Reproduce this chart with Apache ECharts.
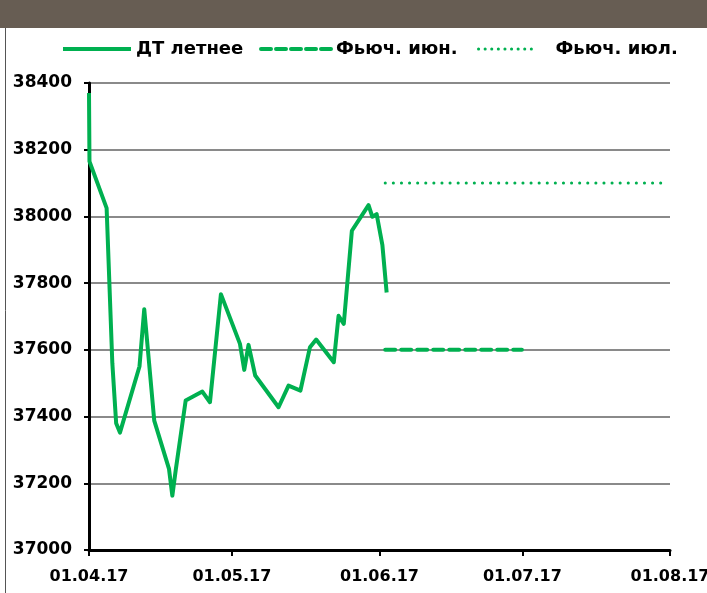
<!DOCTYPE html>
<html>
<head>
<meta charset="utf-8">
<script src="https://cdn.jsdelivr.net/npm/echarts@6/dist/echarts.min.js"></script>
<style>
  html, body { margin: 0; padding: 0; background: #fff; }
  #chart { width: 707px; height: 593px; }
</style>
</head>
<body>
<div id="chart"></div>
<script>
// дни от 01.04.17 и цены ДТ летнее
const startDate = new Date(2017, 3, 1).getTime();
const endDate = new Date(2017, 7, 1).getTime();
const DAY = 86400000;

const spotDays = [0, 0.1, 3.7, 4.9, 5.7, 6.5, 10.6, 11.6, 13.7, 16.8, 17.5, 18.2, 20.3, 23.8, 25.4, 27.7,
  31.7, 32.6, 33.5, 34.9, 39.8, 41.9, 44.4, 46.4, 47.7, 51.4, 52.4, 53.5, 55.2, 58.7, 59.5, 60.4, 61.6, 62.5];
const spotValues = [38370, 38165, 38025, 37560, 37380, 37352, 37550, 37722, 37388, 37243, 37163, 37238, 37448, 37475, 37443, 37767,
  37618, 37540, 37615, 37523, 37428, 37493, 37478, 37608, 37631, 37563, 37702, 37678, 37957, 38034, 37999, 38007, 37915, 37772];

// фьючерсы
const junDays = [62.2, 90.9];
const junValues = [37600, 37600];
const julDays = [62.2, 120.2];
const julValues = [38100, 38100];

const seriesNames = ['ДТ летнее', 'Фьюч. июн.', 'Фьюч. июл.'];

function toPoints(days, values) {
  return days.map((d, i) => [startDate + d * DAY, values[i]]);
}

function pad(n) { return (n < 10 ? '0' : '') + n; }

const green = '#00b050';
const font = 'DejaVu Sans';
const legendText = { fontFamily: font, fontWeight: 'bold', fontSize: 18, color: '#000' };
const legendBase = { top: 35, itemHeight: 14, itemStyle: { opacity: 0 }, textStyle: legendText };

const chart = echarts.init(document.getElementById('chart'));
chart.setOption({
  animation: false,
  graphic: [
    { type: 'rect', shape: { x: 0, y: 0, width: 707, height: 28 }, style: { fill: '#675d53' } },
    { type: 'line', shape: { x1: 5.5, y1: 28, x2: 5.5, y2: 593 }, style: { stroke: '#555', lineWidth: 1 } }
  ],
  legend: [
    Object.assign({}, legendBase, { left: 56, itemWidth: 68, data: [seriesNames[0]],
      lineStyle: { width: 4 } }),
    Object.assign({}, legendBase, { left: 254, itemWidth: 70, data: [seriesNames[1]],
      lineStyle: { width: 4, type: [10, 5] } }),
    Object.assign({}, legendBase, { left: 472, itemWidth: 58, data: [seriesNames[2]],
      lineStyle: { width: 3, type: [0.1, 6.5], cap: 'round' },
      textStyle: Object.assign({ padding: [0, 0, 0, 14] }, legendText) })
  ],
  grid: { left: 89, right: 37, top: 83, bottom: 43, outerBoundsMode: 'none' },
  xAxis: {
    type: 'time',
    min: startDate,
    max: endDate,
    splitNumber: 4,
    axisLine: { lineStyle: { color: '#000', width: 3 } },
    axisTick: { show: true, length: 6, lineStyle: { color: '#000', width: 2 } },
    splitLine: { show: false },
    axisLabel: {
      margin: 19,
      fontFamily: font,
      fontWeight: 'bold',
      fontSize: 16,
      color: '#000',
      hideOverlap: false,
      showMinLabel: true,
      showMaxLabel: true,
      formatter: function (v) {
        const d = new Date(v);
        return pad(d.getDate()) + '.' + pad(d.getMonth() + 1) + '.' + String(d.getFullYear()).slice(2);
      }
    }
  },
  yAxis: {
    type: 'value',
    min: 37000,
    max: 38400,
    interval: 200,
    axisLine: { show: true, lineStyle: { color: '#000', width: 3 } },
    axisTick: { show: true, length: 5, lineStyle: { color: '#000', width: 2 } },
    splitLine: { lineStyle: { color: '#8a8a8a', width: 2 } },
    axisLabel: {
      margin: 17, fontFamily: font, fontWeight: 'bold', fontSize: 17, color: '#000',
      formatter: function (v) { return String(v); }
    }
  },
  series: [
    {
      name: seriesNames[0],
      type: 'line',
      symbol: 'none',
      data: toPoints(spotDays, spotValues),
      lineStyle: { color: green, width: 4, join: 'round' },
      itemStyle: { color: green }
    },
    {
      name: seriesNames[1],
      type: 'line',
      symbol: 'none',
      data: toPoints(junDays, junValues),
      lineStyle: { color: green, width: 4, type: [10, 6], cap: 'round' },
      itemStyle: { color: green }
    },
    {
      name: seriesNames[2],
      type: 'line',
      symbol: 'none',
      data: toPoints(julDays, julValues),
      lineStyle: { color: green, width: 3, type: [0.1, 8], cap: 'round' },
      itemStyle: { color: green }
    }
  ]
});
</script>
</body>
</html>
